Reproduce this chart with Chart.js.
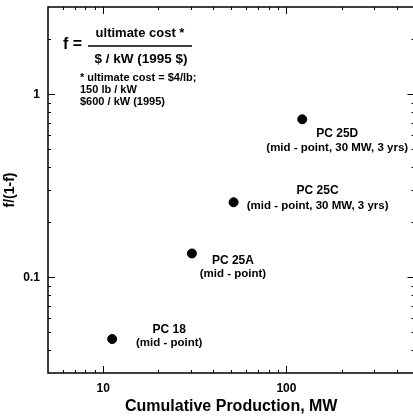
<!DOCTYPE html>
<html>
<head>
<meta charset="utf-8">
<script src="https://cdn.jsdelivr.net/npm/chart.js@4"></script>
<style>
  html, body { margin: 0; padding: 0; background: #fff; overflow: hidden; }
  #wrap { width: 420px; height: 416px; position: relative; }
</style>
</head>
<body>
<div id="wrap"><canvas id="chart"></canvas></div>
<script>
// data
const pointNames = ["PC 18", "PC 25A", "PC 25C", "PC 25D"];
const pointNotes = ["(mid - point)", "(mid - point)", "(mid - point, 30 MW, 3 yrs)", "(mid - point, 30 MW, 3 yrs)"];
const production = [11.2, 30.5, 51.5, 122];
const fRatio = [0.046, 0.135, 0.257, 0.73];

const xTickLabels = [10, 100];
const yTickLabels = [0.1, 1];
const xMinorTicks = [6, 7, 8, 9, 20, 30, 40, 50, 60, 70, 80, 90, 200, 300, 400];
const yMinorTicks = [0.04, 0.05, 0.06, 0.07, 0.08, 0.09, 0.2, 0.3, 0.4, 0.5, 0.6, 0.7, 0.8, 0.9, 2];

// label placement next to each dot, in pixels [dx, dyName, dyNote]
const labelOffsets = [[57, -9, 4], [41, 7, 20], [84, -12, 4], [35, 14, 29]];

const FONT = "'Liberation Sans', Arial, sans-serif";

const frameAndTicks = {
    id: 'frameAndTicks',
    afterDraw(chart) {
        const ctx = chart.ctx;
        const a = chart.chartArea;
        const xs = chart.scales.x;
        const ys = chart.scales.y;
        ctx.save();
        ctx.strokeStyle = '#000';
        ctx.lineWidth = 1.5;
        ctx.strokeRect(a.left, a.top, a.right - a.left, a.bottom - a.top);

        ctx.lineWidth = 1;
        ctx.beginPath();
        const xTick = (v, len) => {
            const x = Math.round(xs.getPixelForValue(v)) + 0.5;
            ctx.moveTo(x, a.bottom); ctx.lineTo(x, a.bottom - len);
            ctx.moveTo(x, a.top); ctx.lineTo(x, a.top + len);
        };
        const yTick = (v, len) => {
            const y = Math.round(ys.getPixelForValue(v)) + 0.5;
            ctx.moveTo(a.left, y); ctx.lineTo(a.left + len, y);
            ctx.moveTo(a.right, y); ctx.lineTo(a.right - len, y);
        };
        xMinorTicks.forEach(v => xTick(v, 3));
        xTickLabels.forEach(v => xTick(v, 7));
        yMinorTicks.forEach(v => yTick(v, 3));
        yTickLabels.forEach(v => yTick(v, 7));
        ctx.stroke();

        // point labels
        const meta = chart.getDatasetMeta(0);
        ctx.fillStyle = '#000';
        ctx.textAlign = 'center';
        ctx.textBaseline = 'middle';
        meta.data.forEach((pt, i) => {
            const off = labelOffsets[i];
            ctx.font = "bold 12px " + FONT;
            ctx.fillText(pointNames[i], pt.x + off[0], pt.y + off[1]);
            ctx.font = "bold 11.5px " + FONT;
            ctx.fillText(pointNotes[i], pt.x + off[0], pt.y + off[2]);
        });

        // formula box in the upper left
        const L = a.left;
        ctx.textAlign = 'left';
        ctx.font = "bold 16px " + FONT;
        ctx.fillText("f =", L + 15, 45);
        ctx.textAlign = 'center';
        ctx.font = "bold 13px " + FONT;
        ctx.fillText("ultimate cost *", L + 92, 33);
        ctx.font = "bold 13.5px " + FONT;
        ctx.fillText("$ / kW (1995 $)", L + 93, 59);
        ctx.lineWidth = 1.5;
        ctx.beginPath();
        ctx.moveTo(L + 40, 46);
        ctx.lineTo(L + 144, 46);
        ctx.stroke();
        ctx.textAlign = 'left';
        ctx.font = "bold 11px " + FONT;
        ctx.fillText("* ultimate cost = $4/lb;", L + 32, 78);
        ctx.fillText("150 lb / kW", L + 32, 90);
        ctx.fillText("$600 / kW (1995)", L + 32, 102);
        ctx.restore();
    }
};

const ctx = document.getElementById('chart').getContext('2d');
new Chart(ctx, {
    type: 'scatter',
    data: {
        datasets: [{
            label: 'f/(1-f)',
            data: production.map((x, i) => ({x: x, y: fRatio[i]})),
            backgroundColor: '#000',
            borderColor: '#000',
            pointRadius: 4.5,
            pointHoverRadius: 4.5
        }]
    },
    options: {
        responsive: true,
        maintainAspectRatio: false,
        animation: false,
        layout: { padding: { top: 7, right: 4, left: 0, bottom: 0 } },
        plugins: { legend: { display: false }, tooltip: { enabled: false } },
        scales: {
            x: {
                type: 'logarithmic',
                min: 5,
                max: 500,
                afterBuildTicks: s => { s.ticks = xTickLabels.map(v => ({value: v})); },
                afterFit: s => { s.height = 43; s.paddingLeft = 0; s.paddingRight = 0; },
                grid: { display: false, drawTicks: false },
                border: { display: false },
                ticks: {
                    padding: 8,
                    color: '#000',
                    font: { family: FONT, size: 12, weight: 'bold' },
                    callback: v => String(v)
                },
                title: {
                    display: true,
                    text: 'Cumulative Production, MW',
                    color: '#000',
                    font: { family: FONT, size: 16, weight: 'bold' },
                    padding: { top: 0, bottom: 0 }
                }
            },
            y: {
                type: 'logarithmic',
                min: 0.03,
                max: 3,
                afterBuildTicks: s => { s.ticks = yTickLabels.map(v => ({value: v})); },
                afterFit: s => { s.width = 48; s.paddingTop = 0; s.paddingBottom = 0; },
                grid: { display: false, drawTicks: false },
                border: { display: false },
                ticks: {
                    padding: 8,
                    color: '#000',
                    font: { family: FONT, size: 12, weight: 'bold' },
                    callback: v => String(v)
                },
                title: {
                    display: true,
                    text: 'f/(1-f)',
                    color: '#000',
                    font: { family: FONT, size: 14, weight: 'bold' },
                    padding: { top: 2, bottom: 0 }
                }
            }
        }
    },
    plugins: [frameAndTicks]
});
</script>
</body>
</html>
